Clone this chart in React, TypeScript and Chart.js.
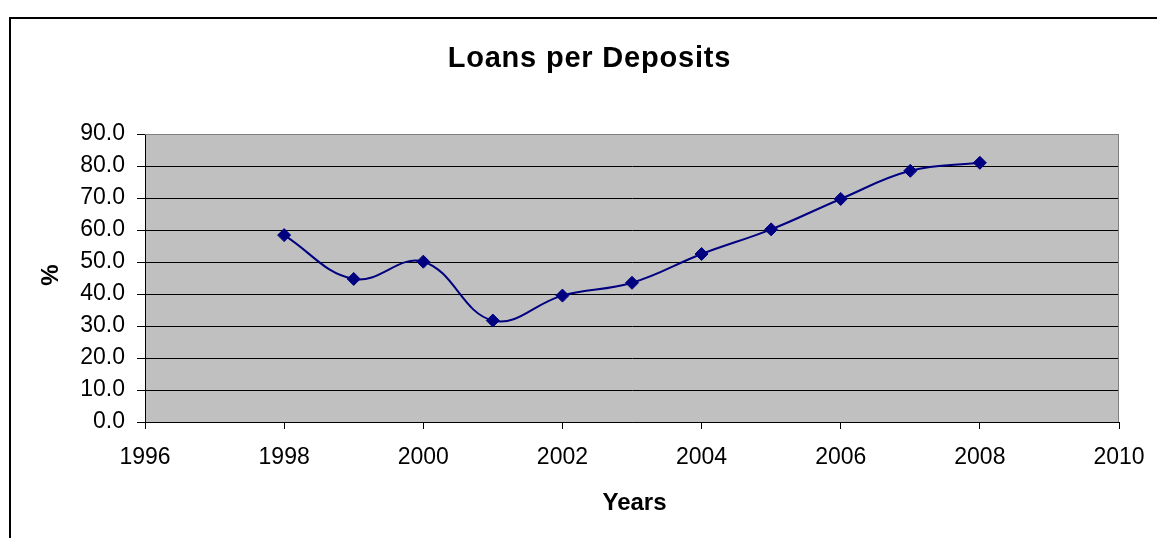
import React, { useEffect, useRef } from "react";
import { Chart, registerables } from "chart.js";

Chart.register(...registerables);

const years = [1998, 1999, 2000, 2001, 2002, 2003, 2004, 2005, 2006, 2007, 2008];
const loansPerDeposits = [58.4, 44.7, 50.1, 31.7, 39.5, 43.5, 52.5, 60.2, 69.7, 78.5, 81.0];
const xMin = 1996;
const xMax = 2010;
const xStep = 2;
const yMin = 0;
const yMax = 90;
const yStep = 10;
const chartTitle = "Loans per Deposits";
const xAxisTitle = "Years";
const yAxisTitle = "%";

const FONT = "'Liberation Sans', Arial, sans-serif";

const decorPlugin = {
  id: "decor",
  beforeDraw(chart: any) {
    const { ctx, chartArea } = chart;
    ctx.save();
    ctx.fillStyle = "#ffffff";
    ctx.fillRect(0, 0, chart.width, chart.height);
    ctx.fillStyle = "#c0c0c0";
    ctx.fillRect(chartArea.left, chartArea.top, chartArea.right - chartArea.left, chartArea.bottom - chartArea.top);
    // outer chart border
    ctx.strokeStyle = "#000000";
    ctx.lineWidth = 2;
    ctx.beginPath();
    ctx.moveTo(10, 700);
    ctx.lineTo(10, 18);
    ctx.lineTo(1300, 18);
    ctx.stroke();
    ctx.restore();
  },
  beforeDatasetsDraw(chart: any) {
    const { ctx, chartArea } = chart;
    ctx.save();
    ctx.strokeStyle = "#808080";
    ctx.lineWidth = 1;
    ctx.beginPath();
    ctx.moveTo(chartArea.left, chartArea.top + 0.5);
    ctx.lineTo(chartArea.right - 0.5, chartArea.top + 0.5);
    ctx.lineTo(chartArea.right - 0.5, chartArea.bottom);
    ctx.stroke();
    ctx.restore();
  },
  afterDraw(chart: any) {
    const { ctx } = chart;
    ctx.save();
    ctx.fillStyle = "#000000";
    // title
    ctx.font = `bold 29px ${FONT}`;
    const ls = 0.8;
    (ctx as any).letterSpacing = `${ls}px`;
    ctx.textAlign = "left";
    ctx.textBaseline = "alphabetic";
    const w = ctx.measureText(chartTitle).width;
    ctx.fillText(chartTitle, 589 - (w - ls) / 2, 67);
    (ctx as any).letterSpacing = "0px";
    // x axis title
    ctx.font = `bold 24px ${FONT}`;
    ctx.textAlign = "center";
    ctx.fillText(xAxisTitle, 634.5, 510);
    // y axis title
    ctx.translate(51, 275);
    ctx.rotate(-Math.PI / 2);
    ctx.textBaseline = "middle";
    ctx.fillText(yAxisTitle, 0, 0);
    ctx.restore();
  },
};

export default function App() {
  const canvasRef = useRef<HTMLCanvasElement | null>(null);

  useEffect(() => {
    if (!canvasRef.current) return;
    const chart = new Chart(canvasRef.current, {
      type: "line",
      data: {
        datasets: [
          {
            label: chartTitle,
            data: years.map((y, i) => ({ x: y, y: loansPerDeposits[i] })),
            borderColor: "#000080",
            backgroundColor: "#000080",
            borderWidth: 2,
            tension: 0.4,
            pointStyle: "rectRot",
            pointRadius: 6.5,
            pointBorderWidth: 1,
            pointBackgroundColor: "#000080",
            pointBorderColor: "#000080",
            fill: false,
          },
        ],
      },
      options: {
        responsive: false,
        animation: false,
        devicePixelRatio: 1,
        layout: { padding: { top: 134, right: 38, left: 0, bottom: 0 } },
        plugins: {
          legend: { display: false },
          title: { display: false },
          tooltip: { enabled: false },
        },
        scales: {
          x: {
            type: "linear",
            min: xMin,
            max: xMax,
            ticks: {
              stepSize: xStep,
              color: "#000000",
              font: { family: FONT, size: 23 },
              padding: 15,
              maxRotation: 0,
              callback: (v: any) => String(v),
            },
            grid: {
              drawOnChartArea: false,
              drawTicks: true,
              tickLength: 7,
              color: "#000000",
              tickColor: "#000000",
              lineWidth: 1,
            },
            border: { color: "#000000", width: 1 },
            afterFit: (scale: any) => {
              scale.height = 116;
              scale.paddingLeft = 0;
              scale.paddingRight = 0;
            },
          },
          y: {
            min: yMin,
            max: yMax,
            ticks: {
              stepSize: yStep,
              color: "#000000",
              font: { family: FONT, size: 23 },
              padding: 12,
              callback: (v: any) => Number(v).toFixed(1),
            },
            grid: {
              drawTicks: true,
              tickLength: 8,
              color: (c: any) => (c.tick && c.tick.value === yMax ? "#808080" : "#000000"),
              tickColor: "#000000",
              lineWidth: 1,
            },
            border: { color: "#000000", width: 1 },
            afterFit: (scale: any) => {
              scale.width = 145;
              scale.paddingTop = 0;
              scale.paddingBottom = 0;
            },
          },
        },
      },
      plugins: [decorPlugin],
    } as any);
    return () => chart.destroy();
  }, []);

  return (
    <div style={{ position: "absolute", left: 0, top: 0, width: 1157, height: 538 }}>
      <canvas ref={canvasRef} width={1157} height={538} style={{ display: "block" }} />
    </div>
  );
}
